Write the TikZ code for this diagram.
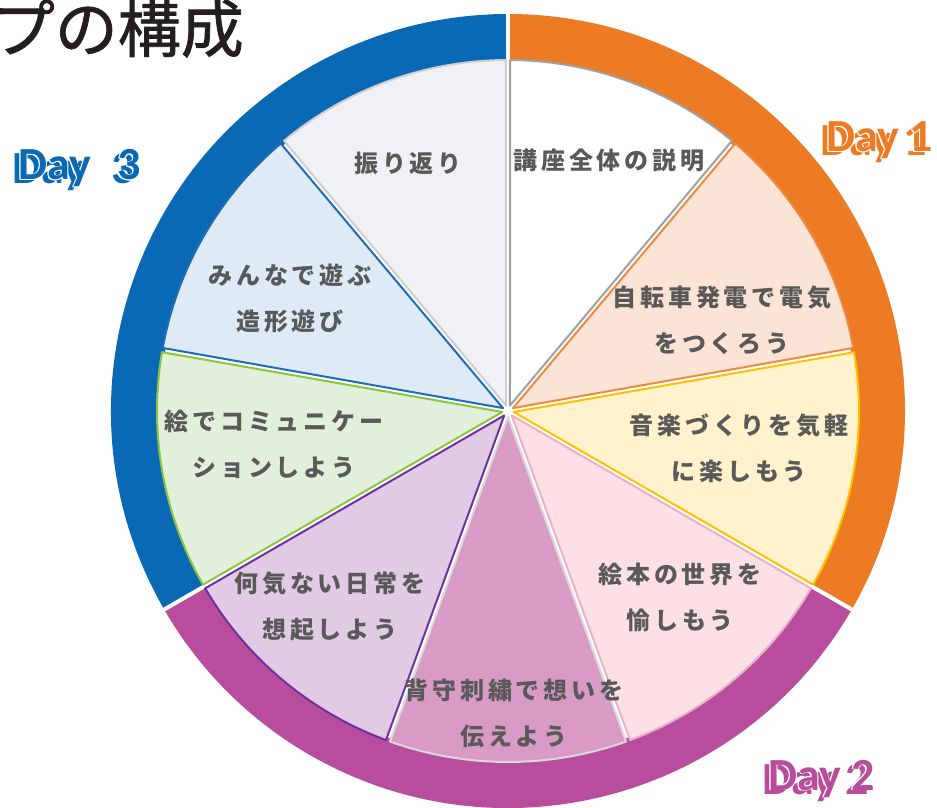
\documentclass[tikz,border=0pt]{standalone}
\usepackage{fontspec}
\usetikzlibrary{calc}
\newfontfamily\jp[LetterSpace=16]{Noto Sans CJK JP}
\newfontfamily\jptitle[FakeBold=1.2]{Noto Sans CJK JP}
\newfontfamily\dayfont{Carlito}
\definecolor{ringO}{HTML}{EC7B24}
\definecolor{ringM}{HTML}{B84C9D}
\definecolor{ringB}{HTML}{0A69B5}
\definecolor{txt}{HTML}{595959}
\definecolor{ttl}{HTML}{231F20}
\definecolor{fA}{HTML}{FFFFFF}\definecolor{lA}{HTML}{A0A0A0}
\definecolor{fB}{HTML}{FBE3D6}\definecolor{lB}{HTML}{EE8A40}
\definecolor{fC}{HTML}{FFF2CC}\definecolor{lC}{HTML}{FFC000}
\definecolor{fD}{HTML}{FCE0E6}\definecolor{lD}{HTML}{EBB0C8}
\definecolor{fE}{HTML}{D99AC5}\definecolor{lE}{HTML}{D9D9D9}
\definecolor{fF}{HTML}{E0CAE4}\definecolor{lF}{HTML}{7030A0}
\definecolor{fG}{HTML}{E2EFDA}\definecolor{lG}{HTML}{8CC63F}
\definecolor{fH}{HTML}{DEEAF6}\definecolor{lH}{HTML}{1F6DB5}
\definecolor{fI}{HTML}{F0F1F4}\definecolor{lI}{HTML}{CFCFCF}
\tikzset{
  wtext/.style={text=txt, align=center, inner sep=0pt,
    font=\jp\bfseries\fontsize{24}{46}\selectfont},
  daytext/.style={inner sep=0pt, anchor=base west,
    font=\dayfont\bfseries\fontsize{46}{50}\selectfont},
  sep/.style={white, line width=4pt}
}
\begin{document}
\begin{tikzpicture}[x=1pt,y=1pt]
\useasboundingbox (0,0) rectangle (937,807);
\coordinate (C) at (508,396);
% outer ring
\fill[ringO] ($(C)+(90:397)$) arc[start angle=90,end angle=-30,radius=397]
  -- ($(C)+(-30:348)$) arc[start angle=-30,end angle=90,radius=348] -- cycle;
\fill[ringM] ($(C)+(-30:397)$) arc[start angle=-30,end angle=-150,radius=397]
  -- ($(C)+(-150:348)$) arc[start angle=-150,end angle=-30,radius=348] -- cycle;
\fill[ringB] ($(C)+(210:397)$) arc[start angle=210,end angle=90,radius=397]
  -- ($(C)+(90:348)$) arc[start angle=90,end angle=210,radius=348] -- cycle;
\coordinate (s1) at ($(C)+(90:402)$);
\coordinate (s2) at ($(C)+(-30:402)$);
\coordinate (s3) at ($(C)+(210:402)$);
\draw[sep] (C) -- (s1);
\draw[sep] (C) -- (s2);
\draw[sep] (C) -- (s3);
% wedges
\foreach \a/\b/\f/\d in {90/50/fA/lA, 50/10/fB/lB, 10/-30/fC/lC, -30/-70/fD/lD,
  -70/-110/fE/lE, -110/-150/fF/lF, -150/-190/fG/lG, -190/-230/fH/lH, -230/-270/fI/lI}{
  \pgfmathsetmacro\m{(\a+\b)/2}
  \pgfmathsetmacro\sa{\a-0.35}
  \pgfmathsetmacro\ea{\b+0.35}
  \path[fill=\f, draw=\d, line width=2pt, line join=round]
    ($(C)+(\m:5.8)$) -- ($(C)+(\sa:351)$) arc[start angle=\sa,end angle=\ea,radius=351] -- cycle;
}
% wedge texts
\node[wtext] (t1) at (609,647) {講座全体の説明};
\node[wtext] (t2) at (722,487) {自転車発電で電気\\をつくろう};
\node[wtext] (t3) at (739,359) {音楽づくりを気軽\\に楽しもう};
\node[wtext] (t4) at (680,210) {絵本の世界を\\愉しもう};
\node[wtext] (t5) at (514,94) {背守刺繍で想いを\\伝えよう};
\node[wtext] (t6) at (330,201) {何気ない日常を\\想起しよう};
\node[wtext] (t7) at (274,363) {絵でコミュニケー\\ションしよう};
\node[wtext] (t8) at (290,509) {みんなで遊ぶ\\造形遊び};
\node[wtext] (t9) at (408,644) {振り返り};
% title
\node[inner sep=0pt, anchor=base east, text=ttl,
  font=\jptitle\fontsize{63}{66}\selectfont] (title) at (244,755) {プの構成};
% day labels
\node[daytext, text=ringO] (d1b) at (820,651) {Day 1};
\foreach \dx/\dy in {0.9/0,-0.9/0,0/0.9,0/-0.9,0.65/0.65,-0.65/0.65,0.65/-0.65,-0.65/-0.65}
  \node[daytext, text=white] (d1w) at (826+\dx,655+\dy) {Day 1};
\node[daytext, text=ringO] (d1) at (826,655) {Day 1};
\node[daytext, text=ringB] (d3b) at (12,623) {Day\hspace{0.35em} 3};
\foreach \dx/\dy in {0.9/0,-0.9/0,0/0.9,0/-0.9,0.65/0.65,-0.65/0.65,0.65/-0.65,-0.65/-0.65}
  \node[daytext, text=white] (d3w) at (18+\dx,627+\dy) {Day\hspace{0.35em} 3};
\node[daytext, text=ringB] (d3) at (18,627) {Day\hspace{0.35em} 3};
\node[daytext, text=ringM] (d2b) at (762,13) {Day 2};
\foreach \dx/\dy in {0.9/0,-0.9/0,0/0.9,0/-0.9,0.65/0.65,-0.65/0.65,0.65/-0.65,-0.65/-0.65}
  \node[daytext, text=white] (d2w) at (768+\dx,17+\dy) {Day 2};
\node[daytext, text=ringM] (d2) at (768,17) {Day 2};
\end{tikzpicture}
\end{document}
